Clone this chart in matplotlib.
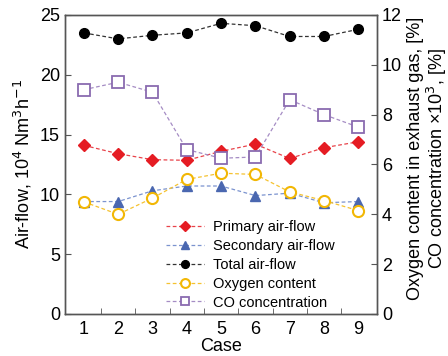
import matplotlib
matplotlib.use("Agg")
import matplotlib.pyplot as plt

plt.rcParams['font.family'] = ['Liberation Sans', 'DejaVu Sans']

cases = [1, 2, 3, 4, 5, 6, 7, 8, 9]
primary = [14.1, 13.4, 12.9, 12.85, 13.6, 14.2, 13.0, 13.9, 14.4]
secondary = [9.4, 9.4, 10.3, 10.7, 10.7, 9.9, 10.1, 9.3, 9.4]
total = [23.5, 23.0, 23.3, 23.5, 24.3, 24.1, 23.2, 23.2, 23.8]
oxygen = [4.5, 4.0, 4.65, 5.4, 5.65, 5.6, 4.9, 4.55, 4.15]
co = [9.0, 9.3, 8.9, 6.6, 6.25, 6.3, 8.6, 8.0, 7.5]

fig = plt.figure(figsize=(4.48, 3.56), dpi=100)
ax = fig.add_axes([0.145, 0.118, 0.697, 0.840])
ax2 = ax.twinx()

ls = (0, (3, 2))
h1, = ax.plot(cases, primary, ls=ls, lw=0.9, color='#e8434a', marker='D', ms=6,
              mfc='#e51c23', mec='#e51c23', label='Primary air-flow')
h2, = ax.plot(cases, secondary, ls=ls, lw=0.9, color='#7b93cf', marker='^', ms=6.5,
              mfc='#4a67b0', mec='#4a67b0', label='Secondary air-flow')
h3, = ax.plot(cases, total, ls=ls, lw=0.9, color='#333333', marker='o', ms=7,
              mfc='black', mec='black', label='Total air-flow')
h4, = ax2.plot(cases, oxygen, ls=ls, lw=0.9, color='#f5c230', marker='o', ms=8,
               mfc='white', mec='#f2b705', mew=1.5, label='Oxygen content')
h5, = ax2.plot(cases, co, ls=ls, lw=0.9, color='#a58cc4', marker='s', ms=8,
               mfc='white', mec='#8a6bb0', mew=1.3, label='CO concentration')

ax.set_xlim(0.45, 9.55)
ax.set_ylim(0, 25)
ax2.set_ylim(0, 12)
ax.set_yticks([0, 5, 10, 15, 20, 25])
ax2.set_yticks([0, 2, 4, 6, 8, 10, 12])

ax.set_xticks(cases)
ax.set_xticks([1.5, 2.5, 3.5, 4.5, 5.5, 6.5, 7.5, 8.5], minor=True)
ax.tick_params(axis='x', which='major', length=0, labelsize=13, pad=5)
ax.tick_params(axis='x', which='minor', direction='in', length=4, color='#555555')
ax.tick_params(axis='y', direction='in', length=4, labelsize=13, color='#555555')
ax2.tick_params(axis='y', direction='in', length=4, labelsize=13, color='#555555')

for a in (ax, ax2):
    for s in a.spines.values():
        s.set_color('#555555')
        s.set_linewidth(1.0)

ax.set_xlabel('Case', fontsize=13, labelpad=0)
ax.set_ylabel('Air-flow, 10$^4$ Nm$^3$h$^{-1}$', fontsize=13, labelpad=4)
fig.text(428 / 448, 1 - 158 / 356,
         'Oxygen content in exhaust gas, [%]\nCO concentration ×10$^3$, [%]',
         rotation=90, ha='center', va='center', multialignment='center',
         fontsize=13, linespacing=1.1)

ax2.legend(handles=[h1, h2, h3, h4, h5], loc='lower left', bbox_to_anchor=(0.325, 0.015),
           frameon=False, fontsize=10.5, handlelength=2.6, handletextpad=0.6,
           labelspacing=0.33, borderaxespad=0.0, borderpad=0.0, markerscale=0.8)

fig.savefig('out.png', dpi=100)
